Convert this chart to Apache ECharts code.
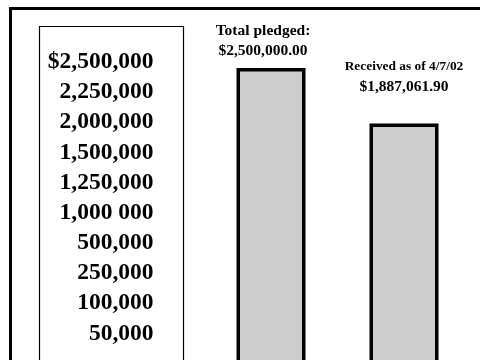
<!DOCTYPE html>
<html>
<head>
<meta charset="utf-8">
<script src="https://cdn.jsdelivr.net/npm/echarts@6/dist/echarts.min.js"></script>
<style>html,body{margin:0;padding:0;background:#fff}#c{width:480px;height:360px}</style>
</head>
<body>
<div id="c"></div>
<script>
// ---- data ----
var categories = ['Total pledged:', 'Received as of 4/7/02'];
var amounts = [2500000.00, 1887061.90];
var scaleLabels = ['$2,500,000', '2,250,000', '2,000,000', '1,500,000', '1,250,000',
                   '1,000 000', '500,000', '250,000', '100,000', '50,000'];

var FONT = '"Liberation Serif", "Times New Roman", serif';
function money(v) {
  return '$' + v.toLocaleString('en-US', {minimumFractionDigits: 2, maximumFractionDigits: 2});
}
var labelStyles = [
  {distance: 7.5, offset: [-8, 0], first: 'a'},
  {distance: 27, offset: [0, 0], first: 'b'}
];
var barData = amounts.map(function (v, i) {
  return {
    value: v,
    label: {distance: labelStyles[i].distance, offset: labelStyles[i].offset,
      formatter: function (p) { return '{' + labelStyles[i].first + '|' + p.name + '}\n{c|' + money(p.value) + '}'; }}
  };
});

var chart = echarts.init(document.getElementById('c'), null, {renderer: 'canvas'});
chart.setOption({
  animation: false,
  backgroundColor: '#ffffff',
  grid: [
    {left: 204.5, width: 266, top: 68, bottom: -40, outerBoundsMode: 'none', containLabel: false},
    {left: 161.5, width: 10, top: 46.9, height: 301.7, outerBoundsMode: 'none', containLabel: false}
  ],
  xAxis: [
    {gridIndex: 0, type: 'category', data: categories, show: false},
    {gridIndex: 1, type: 'value', show: false}
  ],
  yAxis: [
    {gridIndex: 0, type: 'log', min: 464900, max: 2500000, show: false},
    {gridIndex: 1, type: 'category', data: scaleLabels, inverse: true,
      axisLine: {show: false}, axisTick: {show: false}, splitLine: {show: false},
      axisLabel: {interval: 0, margin: 8, color: '#000', fontFamily: FONT, fontWeight: 'bold', fontSize: 23.5}}
  ],
  graphic: [
    {type: 'rect', shape: {x: 10.5, y: 8.5, width: 520, height: 420},
      style: {fill: null, stroke: '#000', lineWidth: 3}, z: 10},
    {type: 'rect', shape: {x: 39.5, y: 26.5, width: 144, height: 400},
      style: {fill: null, stroke: '#000', lineWidth: 1.2}, z: 10}
  ],
  series: [{
    type: 'bar',
    xAxisIndex: 0, yAxisIndex: 0,
    data: barData,
    barWidth: 69,
    clip: false,
    itemStyle: {color: '#cccccc', borderColor: '#000', borderWidth: 3.5},
    label: {
      show: true, position: 'top', color: '#000', fontFamily: FONT, fontWeight: 'bold',
      lineHeight: 20, align: 'center',
      rich: {
        a: {fontSize: 15.5, fontFamily: FONT, fontWeight: 'bold', color: '#000', lineHeight: 20},
        b: {fontSize: 13.4, fontFamily: FONT, fontWeight: 'bold', color: '#000', lineHeight: 20},
        c: {fontSize: 15.5, fontFamily: FONT, fontWeight: 'bold', color: '#000', lineHeight: 20}
      }
    }
  }]
});
</script>
</body>
</html>
